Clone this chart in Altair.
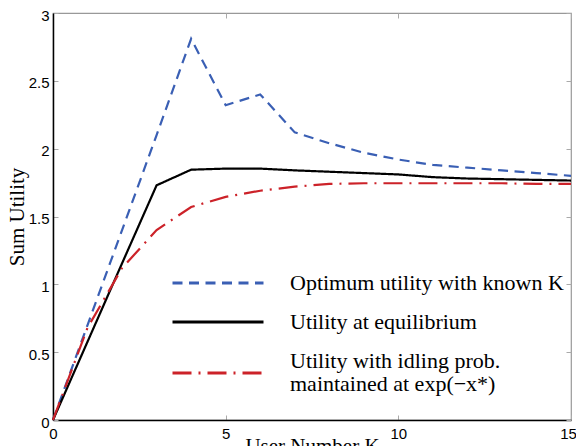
import altair as alt
import pandas as pd

# ---- data ----
K = list(range(16))
opt_known = [0, 0.70, 1.40, 2.10, 2.81, 2.32, 2.40, 2.12, 2.04, 1.97, 1.92, 1.88, 1.86, 1.84, 1.82, 1.80]
equilibrium = [0, 0.577, 1.155, 1.73, 1.845, 1.853, 1.853, 1.84, 1.83, 1.82, 1.81, 1.79, 1.78, 1.775, 1.77, 1.765]
idling = [0, 0.68, 1.12, 1.40, 1.57, 1.645, 1.69, 1.72, 1.74, 1.745, 1.745, 1.745, 1.745, 1.745, 1.74, 1.74]

series_names = [
    "Optimum utility with known K",
    "Utility at equilibrium",
    "Utility with idling prob.|maintained at  exp(\u2212x*)",
]
series_colors = ["#3a5fb4", "#000000", "#cc2229"]
series_dashes = [[10, 6.5], [1, 0], [19, 7, 2, 7]]

x_ticks = [0, 5, 10, 15]
y_ticks = [0, 0.5, 1, 1.5, 2, 2.5, 3]

rows = []
for name, vals in zip(series_names, [opt_known, equilibrium, idling]):
    for k, v in zip(K, vals):
        rows.append({"K": k, "U": v, "series": name})
df = pd.DataFrame(rows)

W, H = 518, 407
xs = alt.Scale(domain=[0, 15], nice=False, zero=False)
ys = alt.Scale(domain=[0, 3], nice=False, zero=False)

leg = alt.Legend(
    orient="none", legendX=118, legendY=259, title=None,
    symbolType="stroke", symbolSize=8281, symbolStrokeWidth=3,
    labelFont="Liberation Serif", labelFontSize=22, labelColor="black",
    labelOffset=25, labelLimit=600, rowPadding=17, padding=0, clipHeight=22,
    labelExpr="split(datum.label, '|')", symbolOpacity=1,
    labelBaseline={"expr": "indexof(datum.label, '|') >= 0 ? 'bottom' : 'middle'"},
)

main_x_axis = alt.Axis(
    orient="bottom", values=x_ticks, title="User Number K", grid=False,
    ticks=False, domainColor="black", domainWidth=1.5, labelPadding=6,
    labelFlush=False, labelOverlap=False, titleY=15, titleBaseline="top",
    labelOffset={"condition": {"test": "datum.value === 15", "value": -3}, "value": 0},
)
main_y_axis = alt.Axis(
    orient="left", values=y_ticks, title="Sum Utility", grid=False,
    ticks=False, domainColor="black", domainWidth=1.5, labelPadding=4,
    labelFlush=False, labelOverlap=False, labelOffset=2,
    labelExpr="format(datum.value, '')",
    titleX=-26, titleY=H / 2, titleBaseline="bottom", titleAlign="center",
)

lines = alt.Chart(df).mark_line(strokeWidth=2.2).encode(
    x=alt.X("K:Q", scale=xs, axis=main_x_axis),
    y=alt.Y("U:Q", scale=ys, axis=main_y_axis),
    color=alt.Color("series:N", scale=alt.Scale(domain=series_names, range=series_colors), legend=leg),
    strokeDash=alt.StrokeDash("series:N", scale=alt.Scale(domain=series_names, range=series_dashes), legend=leg),
    order=alt.Order("K:Q"),
)


def tick_layer(xorient, yorient):
    tick_props = dict(labels=False, domain=False, ticks=True, tickSize=5,
                      tickColor="#aaaaaa", tickWidth=1, grid=False, title=None)
    return alt.Chart(df).mark_point(opacity=0).encode(
        x=alt.X("K:Q", scale=xs, axis=alt.Axis(orient=xorient, offset=-H, values=x_ticks, **tick_props)),
        y=alt.Y("U:Q", scale=ys, axis=alt.Axis(orient=yorient, offset=-W, values=y_ticks, **tick_props)),
    )


chart = alt.layer(
    tick_layer("bottom", "right"),
    tick_layer("top", "left"),
    lines,
).resolve_axis(x="independent", y="independent").properties(
    width=W, height=H, autosize="none",
    padding={"left": 45, "top": 5, "right": 5, "bottom": 26},
).configure(
    style={"guide-label": {"lineHeight": 23}}
).configure_view(
    stroke="#999999", strokeWidth=1.2
).configure_axis(
    labelFont="Liberation Sans", labelFontSize=15, labelColor="black",
    titleFont="Liberation Serif", titleFontSize=21, titleFontWeight="normal",
    titleColor="black",
).configure_legend(
    labelFont="Liberation Serif", labelFontSize=22, labelColor="black",
)

chart.save("out.html", embed_options={"renderer": "svg", "actions": False})
